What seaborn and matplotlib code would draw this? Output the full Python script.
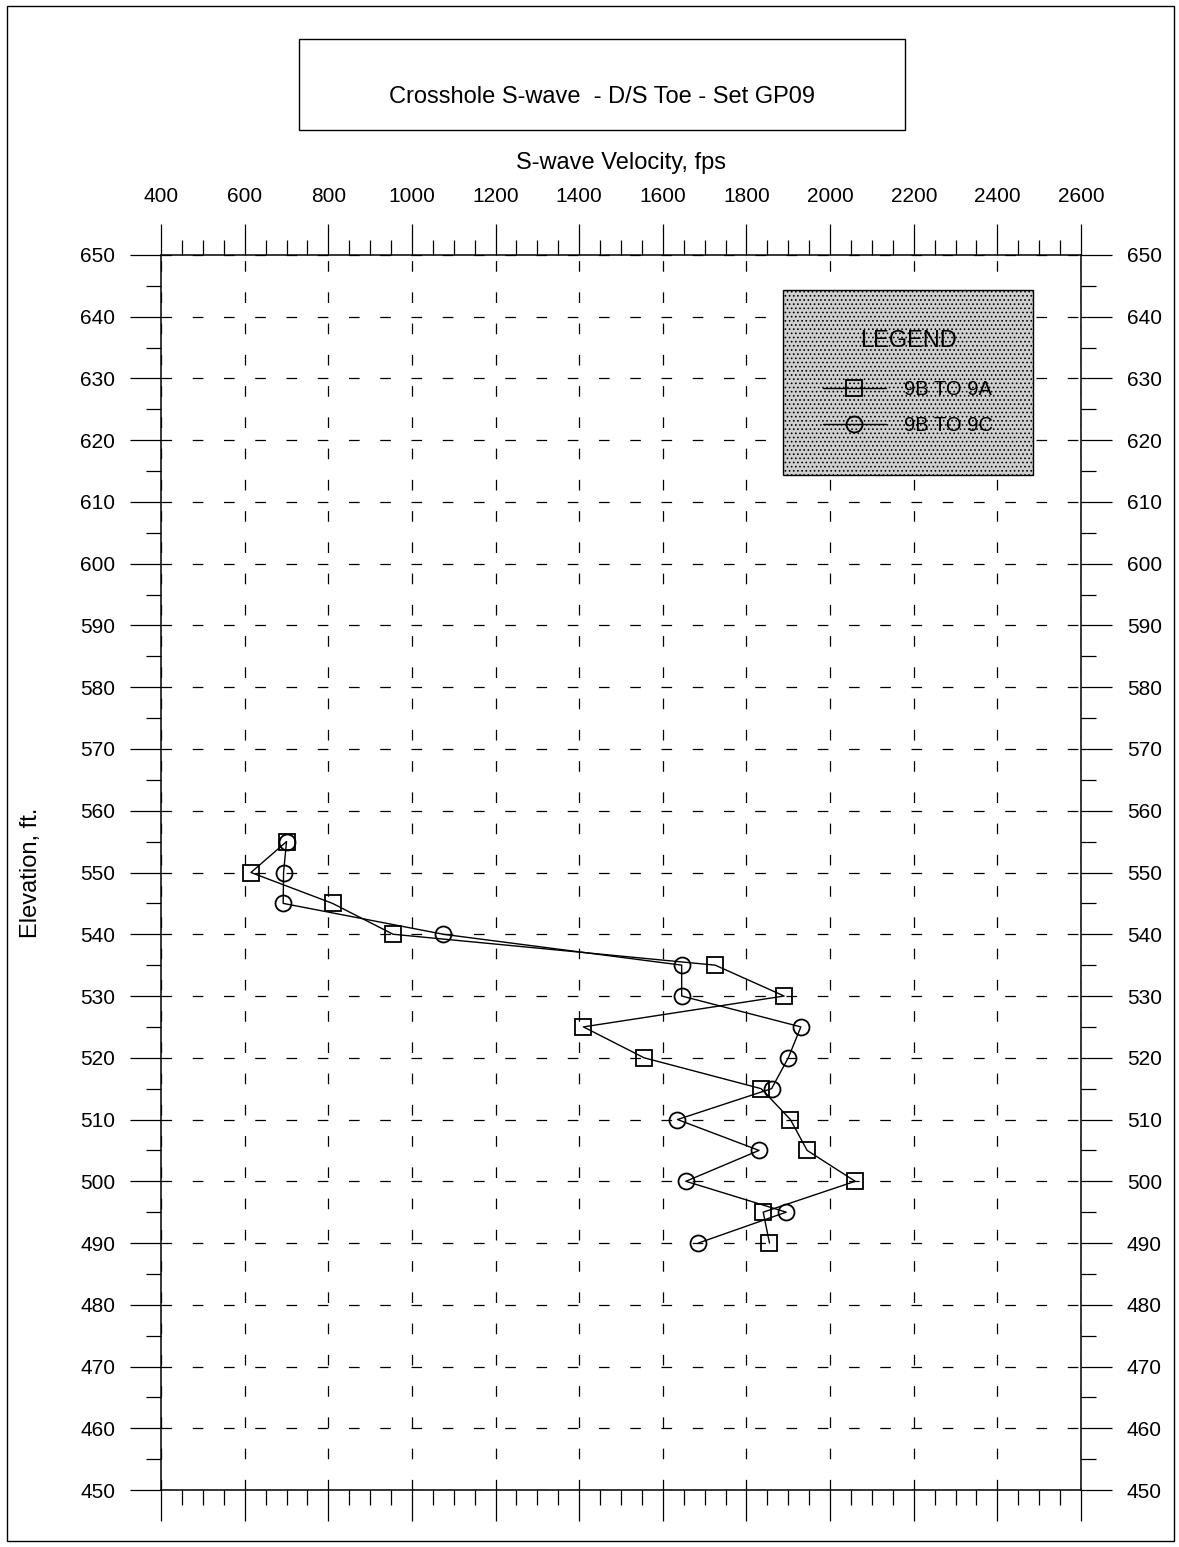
import matplotlib
matplotlib.use("Agg")
import matplotlib.pyplot as plt
import matplotlib.patches as mpatches
import seaborn as sns
import pandas as pd

# S-wave velocities (fps) by elevation (ft)
elev_9a = [555, 550, 545, 540, 535, 530, 525, 520, 515, 510, 505, 500, 495, 490]
vel_9a = [700, 615, 810, 955, 1725, 1890, 1410, 1555, 1835, 1905, 1945, 2060, 1840, 1855]

elev_9c = [555, 550, 545, 540, 535, 530, 525, 520, 515, 510, 505, 500, 495, 490]
vel_9c = [700, 693, 692, 1075, 1645, 1645, 1930, 1900, 1860, 1635, 1830, 1655, 1895, 1685]

x_ticks = list(range(400, 2601, 200))
y_ticks = list(range(450, 651, 10))

df_a = pd.DataFrame({"vel": vel_9a, "elev": elev_9a})
df_c = pd.DataFrame({"vel": vel_9c, "elev": elev_9c})

sns.set_style("white")
plt.rcParams["font.family"] = ["Liberation Sans", "DejaVu Sans"]
plt.rcParams["text.color"] = "black"
plt.rcParams["axes.labelcolor"] = "black"
plt.rcParams["xtick.color"] = "black"
plt.rcParams["ytick.color"] = "black"
plt.rcParams["hatch.color"] = "#808080"
plt.rcParams["hatch.linewidth"] = 0.7

fig = plt.figure(figsize=(11.79, 15.47), dpi=100)
ax = fig.add_axes([0.1366, 0.0368, 0.7803, 0.7984])

# outer border and title box
fig.patches.append(mpatches.Rectangle((7 / 1179, 6 / 1547), 1167 / 1179, 1535 / 1547,
                                      transform=fig.transFigure, fill=False,
                                      edgecolor="black", linewidth=1.0))
fig.patches.append(mpatches.Rectangle((299 / 1179, 1 - 130 / 1547), 606 / 1179, 91 / 1547,
                                      transform=fig.transFigure, fill=False,
                                      edgecolor="black", linewidth=1.0))
fig.text(602 / 1179, 1 - 97 / 1547, "Crosshole S-wave  - D/S Toe - Set GP09",
         ha="center", va="center", fontsize=17)

line_kw = dict(color="black", linewidth=1.0, sort=False, estimator=None,
               markerfacecolor="none", markeredgecolor="black", markeredgewidth=1.3)
sns.lineplot(data=df_a, x="vel", y="elev", marker="s", markersize=11,
             label="9B TO 9A", ax=ax, **line_kw)
sns.lineplot(data=df_c, x="vel", y="elev", marker="o", markersize=11.5,
             label="9B TO 9C", ax=ax, **line_kw)

ax.set_xlim(400, 2600)
ax.set_ylim(450, 650)
ax.set_xticks(x_ticks)
ax.set_yticks(y_ticks)
ax.set_xticks(range(400, 2601, 50), minor=True)
ax.set_yticks(range(450, 651, 5), minor=True)

ax.xaxis.set_label_position("top")
ax.set_xlabel("S-wave Velocity, fps", fontsize=17, labelpad=13)
ax.set_ylabel("Elevation, ft.", fontsize=17, va="center")
ax.yaxis.set_label_coords(-0.141, 0.5)

ax.tick_params(axis="x", which="both", top=True, bottom=True, labeltop=True,
               labelbottom=False, direction="out", color="black")
ax.tick_params(axis="y", which="both", left=True, right=True, labelleft=True,
               labelright=True, direction="out", color="black")
ax.tick_params(which="major", length=22, width=0.9, labelsize=15, pad=11)
ax.tick_params(which="minor", length=11, width=0.9)
ax.tick_params(axis="x", which="major", pad=13)

for sp in ax.spines.values():
    sp.set_color("black")
    sp.set_linewidth(1.1)

ax.grid(True, which="major", color="black", linewidth=0.9, linestyle=(0, (8.5, 16.5)))

leg = ax.legend(title="LEGEND", loc="upper left", bbox_to_anchor=(0.676, 0.9717),
                borderaxespad=0, frameon=True, fancybox=False, fontsize=14.5,
                title_fontsize=17, handlelength=3.1, handletextpad=0.9,
                borderpad=2.0, labelspacing=0.85, framealpha=1)
frame = leg.get_frame()
frame.set_facecolor("#cfcfcf")
frame.set_edgecolor("black")
frame.set_linewidth(1.0)
frame.set_hatch("....")
leg._legend_box.sep = 20
for t in leg.get_texts():
    t.set_color("black")
leg.get_title().set_color("black")

fig.savefig("out.png", dpi=100)
